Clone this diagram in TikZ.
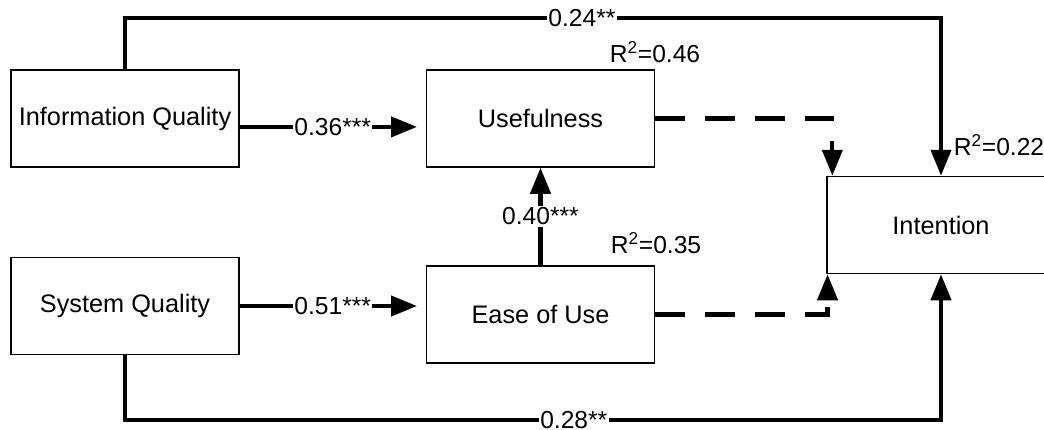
\documentclass[tikz,border=0pt]{standalone}
\usepackage{fontspec}
\setmainfont{Liberation Sans}
\usetikzlibrary{arrows.meta}

\begin{document}
\begin{tikzpicture}[x=0.025cm, y=-0.025cm]
\tikzset{boite/.style={draw, line width=0.9pt, minimum width=5.7cm, minimum height=2.43cm, inner sep=0pt, font=\fontsize{18}{22}\selectfont}}
\tikzset{fleche/.style={line width=3pt, -{Triangle[length=0.65cm, width=0.5cm]}}}
\tikzset{tiret/.style={fleche, dash pattern=on 0.75cm off 0.5cm}}
\tikzset{coef/.style={fill=white, inner sep=1pt, font=\fontsize{17.5}{21}\selectfont}}
\useasboundingbox (0,0) rectangle (1044,429);
\clip (0,0) rectangle (1044,429);
\node[boite] (IQ) at (125,118.5) {Information Quality};
\node[boite] (U) at (540.5,118.5) {Usefulness};
\node[boite] (SQ) at (125,306) {System Quality};
\node[boite] (EoU) at (540.5,314.5) {Ease of Use};
\node[boite] (Int) at (941,225) {Intention};
\node[coef] (R1) at (655,52) {R\textsuperscript{2}=0.46};
\node[coef] (R2) at (656,243) {R\textsuperscript{2}=0.35};
\node[coef] (R3) at (999,145) {R\textsuperscript{2}=0.22};
\coordinate (haut) at (0,18);
\coordinate (bas) at (0,420);
\draw[fleche, shorten >=0.22cm] ([yshift=-0.21cm]IQ.east) -- node[coef] {0.36***} ([yshift=-0.21cm]U.west);
\draw[fleche, shorten >=0.22cm] (SQ.east) -- node[coef] {0.51***} (SQ.east -| EoU.west);
\draw[fleche] (EoU.north) -- node[coef] {0.40***} (U.south);
\draw[tiret] (U.east) -| ([xshift=0.15cm]Int.north west);
\draw[tiret] (EoU.east) -| ([xshift=0.03cm]Int.south west);
\draw[fleche] (IQ.north) -- (IQ.north |- haut) -- node[coef, pos=0.56] {0.24**} (Int.north |- haut) -- (Int.north);
\draw[fleche] (SQ.south) -- (SQ.south |- bas) -- node[coef, pos=0.55] {0.28**} (Int.south |- bas) -- (Int.south);
\end{tikzpicture}
\end{document}
